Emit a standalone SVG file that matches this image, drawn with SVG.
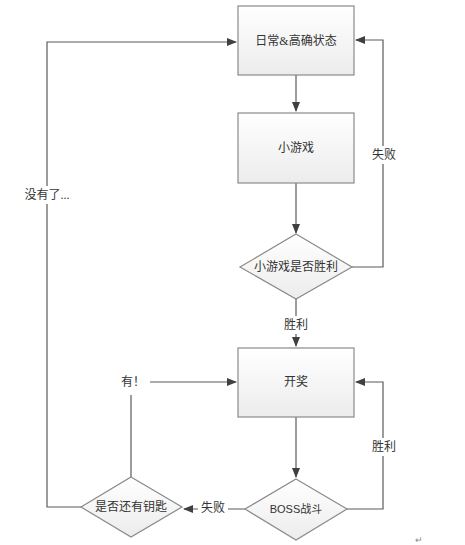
<svg xmlns="http://www.w3.org/2000/svg" width="465" height="545" viewBox="0 0 465 545">
<defs>
<linearGradient id="g" x1="0" y1="0" x2="0" y2="1"><stop offset="0" stop-color="#ffffff"/><stop offset="1" stop-color="#ececec"/></linearGradient>
<marker id="a" markerWidth="10" markerHeight="8" refX="9" refY="4" orient="auto" markerUnits="userSpaceOnUse"><path d="M0,0 L10,4 L0,8 Z" fill="#404040"/></marker>
<style>
.n{fill:url(#g);stroke:#8a8a8a;stroke-width:1.2}
.c{fill:none;stroke:#5a5a5a;stroke-width:1.2}
text{font-family:"Liberation Serif","Noto Sans CJK SC",serif;font-size:12px;fill:#333;text-anchor:middle;dominant-baseline:central}
.l{fill:#fff}
</style>
</defs>
<rect width="465" height="545" fill="#fff"/>
<g id="connectors">
<path class="c" d="M296,75 V111" marker-end="url(#a)"/>
<path class="c" d="M296,183 V233" marker-end="url(#a)"/>
<path class="c" d="M296,299 V346" marker-end="url(#a)"/>
<path class="c" d="M352,267 H383 V40 H356" marker-end="url(#a)"/>
<path class="c" d="M296,417 V477" marker-end="url(#a)"/>
<path class="c" d="M347,509 H383 V382 H356" marker-end="url(#a)"/>
<path class="c" d="M245,509 H184" marker-end="url(#a)"/>
<path class="c" d="M131,477 V395"/>
<path class="c" d="M150,382 H236" marker-end="url(#a)"/>
<path class="c" d="M81,507 H47 V42 H236" marker-end="url(#a)"/>
<rect class="l" x="281" y="316" width="30" height="18"/>
<text x="296" y="325">胜利</text>
<rect class="l" x="370" y="146" width="26" height="18"/>
<text x="384" y="155">失败</text>
<rect class="l" x="370" y="438" width="26" height="18"/>
<text x="384" y="447">胜利</text>
<rect class="l" x="198" y="500" width="30" height="18"/>
<text x="213" y="508">失败</text>
<rect class="l" x="24" y="186" width="46" height="18"/>
<text x="47" y="195">没有了...</text>
<text x="133" y="382">有！</text>
</g>
<g id="n1"><rect class="n" x="238" y="6" width="116" height="69"/><text x="296" y="41">日常&amp;高确状态</text></g>
<g id="n2"><rect class="n" x="238" y="113" width="116" height="70"/><text x="296" y="148">小游戏</text></g>
<g id="n3"><path class="n" d="M296,234 L352,267 L296,299 L240,267 Z"/><text x="296" y="267">小游戏是否胜利</text></g>
<g id="n4"><rect class="n" x="238" y="348" width="116" height="69"/><text x="296" y="382">开奖</text></g>
<g id="n5"><path class="n" d="M296,479 L347,509 L296,540 L245,509 Z"/><text x="296" y="509" style="font-family:'Liberation Sans','Noto Sans CJK SC',sans-serif;font-size:11px">BOSS战斗</text></g>
<g id="n6"><path class="n" d="M131,477 L182,507 L131,537 L81,507 Z"/><text x="131" y="507">是否还有钥匙</text></g>
<text x="419" y="540" style="font-size:9px;fill:#888">↵</text>
</svg>
